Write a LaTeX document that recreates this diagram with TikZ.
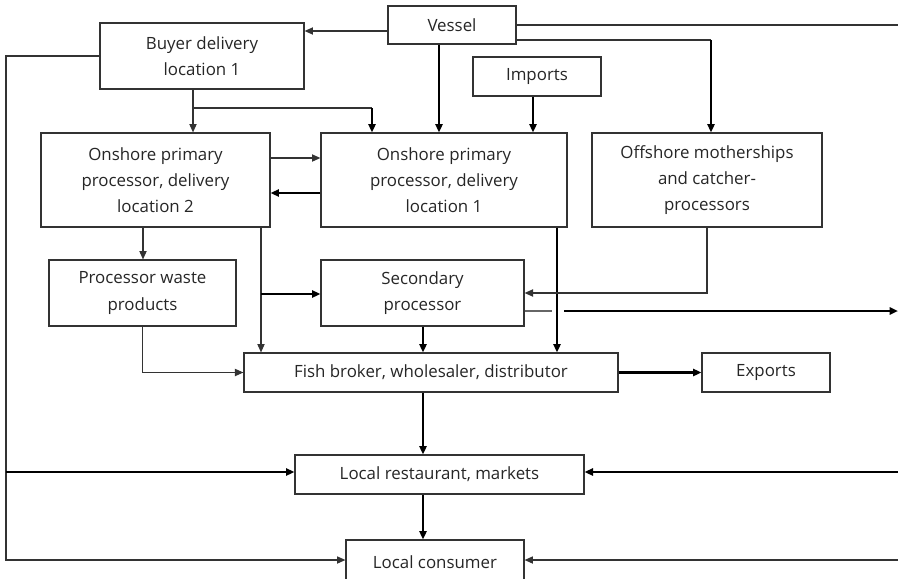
\documentclass[tikz,border=0pt]{standalone}
\usepackage{fontspec}
\setmainfont{Open Sans}
\usetikzlibrary{arrows.meta}

\begin{document}
\begin{tikzpicture}[x=0.025cm, y=-0.025cm,
    every node/.style={font=\fontsize{12}{18.5}\selectfont, text=black!85},
    bx/.style={rectangle, draw=black!80, line width=0.8pt, align=center, inner sep=0pt},
    ln/.style={draw=black!80, line width=0.8pt},
    tk/.style={draw=black, line width=1.6pt},
    e/.style={-{Triangle[length=2.1mm, width=1.8mm]}},
  ]
  \useasboundingbox (0,0) rectangle (898,578);
  \coordinate (lf) at (6,0);
  \coordinate (rt) at (898,0);

  % boxes
  \node[bx, minimum width=3.2cm, minimum height=0.95cm] (vessel) at (452,25) {Vessel};
  \node[bx, minimum width=5.1cm, minimum height=1.65cm] (buyer) at (202,56) {Buyer delivery\\location 1};
  \node[bx, minimum width=3.2cm, minimum height=0.975cm] (imports) at (537,76.5) {Imports};
  \node[bx, minimum width=5.725cm, minimum height=2.35cm] (on2) at (155.5,180) {Onshore primary\\processor, delivery\\location 2};
  \node[bx, minimum width=6.15cm, minimum height=2.35cm] (on1) at (444,180) {Onshore primary\\processor, delivery\\location 1};
  \node[bx, minimum width=5.75cm, minimum height=2.35cm] (offshore) at (707,180) {Offshore motherships\\and catcher-\\processors};
  \node[bx, minimum width=4.675cm, minimum height=1.65cm] (waste) at (142.5,293) {Processor waste\\products};
  \node[bx, minimum width=5.075cm, minimum height=1.65cm] (secondary) at (422.5,293) {Secondary\\processor};
  \node[bx, minimum width=9.35cm, minimum height=0.975cm] (broker) at (431,372.5) {Fish broker, wholesaler, distributor};
  \node[bx, minimum width=3.2cm, minimum height=0.975cm] (exports) at (766,372.5) {Exports};
  \node[bx, minimum width=7.225cm, minimum height=0.975cm] (restaurant) at (439.5,474.5) {Local restaurant, markets};
  \node[bx, minimum width=4.45cm, minimum height=1.1cm] (consumer) at (435,562) {Local consumer};

  % from the vessel
  \draw[ln,e] (vessel.west |- 0,31) -- (buyer.east |- 0,31);
  \draw[ln] (vessel.east |- 0,25) -- (rt |- 0,25);
  \draw[tk,e] (vessel.south -| 439,0) -- (on1.north -| 439,0);
  \draw[ln] (vessel.east |- 0,40) -- (711,40);
  \draw[tk,e] (711,40) -- (offshore.north -| 711,0);
  \draw[tk,e] (imports.south -| 533,0) -- (on1.north -| 533,0);

  % buyer
  \draw[ln,e] (buyer.south -| 193,0) -- (on2.north -| 193,0);
  \draw[ln] (193,108) -- (372,108);
  \draw[tk,e] (372,108) -- (on1.north -| 372,0);
  \draw[ln,e] (buyer.west) -| (lf |- 0,560) -- (consumer.west |- 0,560);
  \draw[tk,e] (lf |- 0,472) -- (restaurant.west |- 0,472);

  % primary processors
  \draw[ln,e] (on2.east |- 0,158) -- (on1.west |- 0,158);
  \draw[tk,e] (on1.west |- 0,193) -- (on2.east |- 0,193);
  \draw[ln,e] (on2.south -| 143,0) -- (waste.north -| 143,0);
  \draw[ln,e] (on2.south -| 261,0) -- (broker.north -| 261,0);
  \draw[tk,e] (261,294) -- (secondary.west |- 0,294);
  \draw[tk,e] (on1.south -| 557,0) -- (broker.north -| 557,0);
  \draw[ln,e] (offshore.south) |- (secondary.east);

  % secondary and waste
  \draw[tk,e] (secondary.south -| 423,0) -- (broker.north -| 423,0);
  \draw[draw=black!60, line width=0.8pt] (secondary.east |- 0,311) -- (552,311);
  \draw[tk,e] (564,311) -- (rt |- 0,311);
  \draw[ln,e] (waste.south) |- (broker.west);

  % down to the market
  \draw[tk,e] (broker.east) -- (exports.west);
  \draw[tk,e] (broker.south -| 423,0) -- (restaurant.north -| 423,0);
  \draw[tk,e] (restaurant.south -| 423,0) -- (consumer.north -| 423,0);
  \draw[tk,e] (rt |- 0,472) -- (restaurant.east |- 0,472);
  \draw[ln,e] (rt |- 0,560) -- (consumer.east |- 0,560);
\end{tikzpicture}
\end{document}
